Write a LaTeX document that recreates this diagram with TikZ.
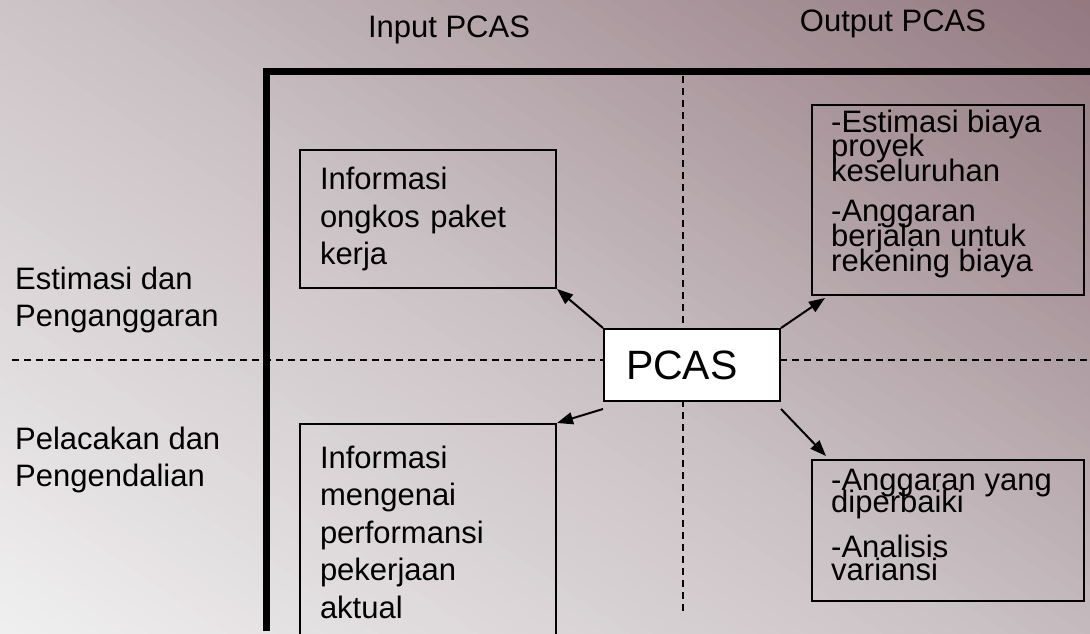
\documentclass[tikz,border=0pt]{standalone}
\usepackage{fontspec}
\setmainfont{Liberation Sans}
\usetikzlibrary{arrows.meta,calc}
\definecolor{bgA}{HTML}{F1F0F0}
\definecolor{bgB}{HTML}{C9C0C3}
\definecolor{bgC}{HTML}{937880}
\tikzset{
  lbl/.style={inner sep=0pt, font=\fontsize{31}{37}\selectfont, align=left},
  linetxt/.style={inner sep=0pt, anchor=base west, font=\fontsize{31}{37}\selectfont},
  infobox/.style={draw=black, line width=2pt, anchor=north west, inner xsep=20pt, inner ysep=0pt, align=left},
  bigtxt/.style={font=\fontsize{31}{37.5}\selectfont},
  pcasbox/.style={draw=black, fill=white, line width=2pt, anchor=north west, inner xsep=22pt, inner ysep=0pt, align=left, text width=132pt, minimum width=176pt, minimum height=72pt, font=\fontsize{41}{48}\selectfont},
  frame/.style={line width=7pt, line join=miter},
  divider/.style={line width=1.5pt, dash pattern=on 7pt off 5pt},
  arr/.style={line width=2pt, -{Triangle[length=16pt,width=12pt]}}
}
\begin{document}
\begin{tikzpicture}[x=1pt,y=-1pt]
\useasboundingbox (0,0) rectangle (1090,634);
\clip (0,0) rectangle (1090,634);
% background gradient (diagonal, light bottom-left to mauve top-right)
\fill[bgA] (-10,-10) rectangle (1100,644);
\foreach \i in {0,...,39}{
  \pgfmathsetmacro\ua{-1+\i/40}
  \pgfmathsetmacro\pc{(\i+0.5)*2.5}
  \colorlet{stripc}{bgB!\pc!bgA}
  \fill[stripc] ({1009.26*(\ua+0.08-0.046)},-31.7) -- ({1009.26*(\ua+0.08+0.966)},665.7) -- ({1009.26*(\ua+0.115+0.966)},665.7) -- ({1009.26*(\ua+0.115-0.046)},-31.7) -- cycle;
}
\foreach \i in {0,...,39}{
  \pgfmathsetmacro\ua{\i/40}
  \pgfmathsetmacro\pc{(\i+0.5)*2.5}
  \colorlet{stripc}{bgC!\pc!bgB}
  \fill[stripc] ({1009.26*(\ua+0.08-0.046)},-31.7) -- ({1009.26*(\ua+0.08+0.966)},665.7) -- ({1009.26*(\ua+0.115+0.966)},665.7) -- ({1009.26*(\ua+0.115-0.046)},-31.7) -- cycle;
}
\fill[bgC] ({1009.26*(1.025+0.08-0.046)},-31.7) -- ({1009.26*(1.025+0.08+0.966)},665.7) -- (2500,665.7) -- (2500,-31.7) -- cycle;
% headings
\node[lbl, anchor=base] (hin) at (449,38) {Input PCAS};
\node[lbl, anchor=base] (hout) at (893,32) {Output PCAS};
\node[lbl, anchor=west] (rest) at (15,299.5) {Estimasi dan\\Penganggaran};
\node[lbl, anchor=west] (rtrack) at (15,460) {Pelacakan dan\\Pengendalian};
% dividers
\coordinate (vt) at (683,76);
\coordinate (vb) at (683,612);
\coordinate (hl) at (12,360);
\coordinate (hr) at (1090,360);
\draw[divider] (vt) -- (vb);
\draw[divider] (hl) -- (hr);
% frame
\coordinate (fb) at (266.5,631);
\coordinate (fc) at (266.5,72);
\coordinate (fr) at (1095,72);
\draw[frame] (fb) -- (fc) -- (fr);
% boxes
\node[infobox, bigtxt, text width=216pt, minimum width=256pt, minimum height=138pt] (b1) at (299,149)
  {Informasi\\ongkos paket\\kerja};
\node[infobox, bigtxt, text width=216pt, minimum width=256pt, minimum height=216pt] (b2) at (299,423)
  {Informasi\\mengenai\\performansi\\pekerjaan\\aktual};
\node[infobox, minimum width=272pt, minimum height=190pt] (b3) at (811,104) {};
\node[linetxt] (b3a) at (831,132.7) {-Estimasi biaya};
\node[linetxt] (b3b) at (831,156.7) {proyek};
\node[linetxt] (b3c) at (831,181.7) {keseluruhan};
\node[linetxt] (b3d) at (831,221.7) {-Anggaran};
\node[linetxt] (b3e) at (831,246.7) {berjalan untuk};
\node[linetxt] (b3f) at (831,271.7) {rekening biaya};
\node[infobox, minimum width=272pt, minimum height=141pt] (b4) at (811,459) {};
\node[linetxt] (b4a) at (831,490) {-Anggaran yang};
\node[linetxt] (b4b) at (831,512) {diperbaiki};
\node[linetxt] (b4c) at (831,557) {-Analisis};
\node[linetxt] (b4d) at (831,580) {variansi};
\node[pcasbox] (pcas) at (603,328) {PCAS};
% arrows
\draw[arr] (pcas.north west) -- (b1.south east);
\draw[arr] (pcas.north east) -- ($(b3.south west)+(14,2)$);
\draw[arr] ($(pcas.south west)+(0,7)$) -- (b2.north east);
\draw[arr] ($(pcas.south east)+(0,7)$) -- ($(b4.north west)+(15,-3)$);
\end{tikzpicture}
\end{document}
